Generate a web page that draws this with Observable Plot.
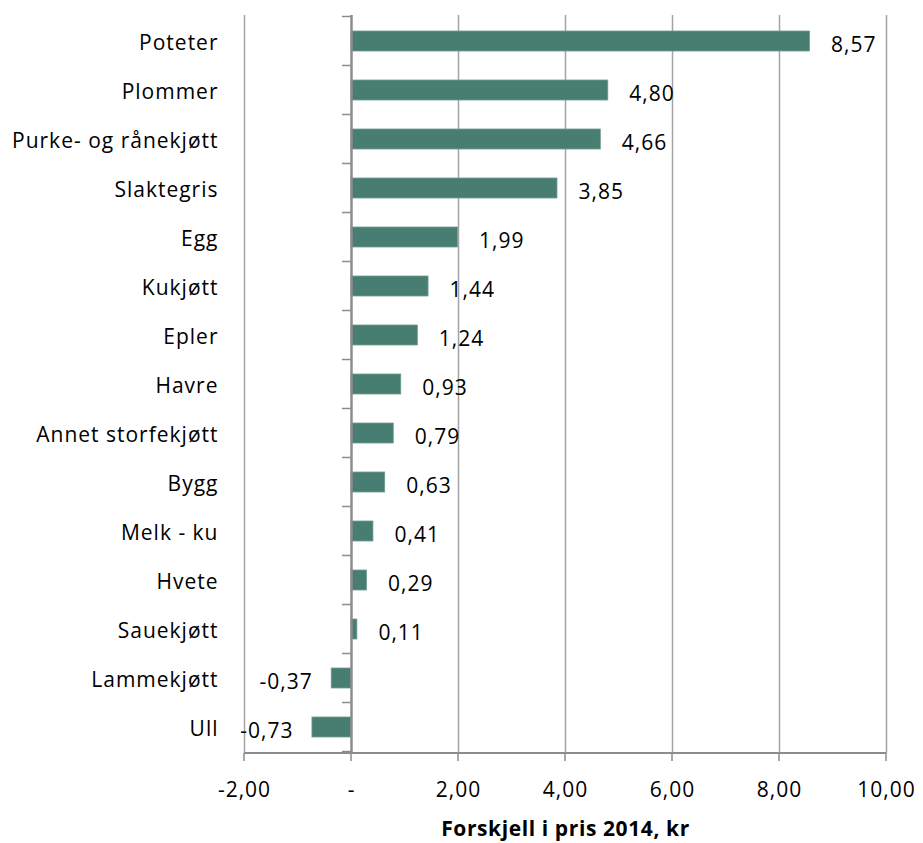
<!DOCTYPE html>
<html>
<head>
<meta charset="utf-8">
<script src="https://cdn.jsdelivr.net/npm/d3@7"></script>
<script src="https://cdn.jsdelivr.net/npm/@observablehq/plot@0.6"></script>
<style>
  html, body { margin: 0; padding: 0; background: #fff; }
  #chart svg { display: block; }
  #chart svg text { letter-spacing: 1px; }
  #chart svg .title text { letter-spacing: 0.6px; }
</style>
</head>
<body>
<div id="chart"></div>
<script>
// Price difference 2014 per product (kr)
const products = [
  "Poteter", "Plommer", "Purke- og rånekjøtt", "Slaktegris", "Egg",
  "Kukjøtt", "Epler", "Havre", "Annet storfekjøtt", "Bygg",
  "Melk - ku", "Hvete", "Sauekjøtt", "Lammekjøtt", "Ull"
];
const differences = [
  8.57, 4.80, 4.66, 3.85, 1.99,
  1.44, 1.24, 0.93, 0.79, 0.63,
  0.41, 0.29, 0.11, -0.37, -0.73
];
const xTicks = [-2, 0, 2, 4, 6, 8, 10];
const axisTitle = "Forskjell i pris 2014, kr";

const data = products.map((name, i) => ({name, value: differences[i]}));

// Norwegian number style: decimal comma, hyphen minus, "-" for zero
const fmt = v => v === 0 ? "-" : d3.format(".2f")(v).replace("\u2212", "-").replace(".", ",");
const FONT = "'Open Sans', sans-serif";
const FS = 21;
const BAR = "#487d72";
const GRID = "#a3a3a3";
const AXIS = "#8c8c8c";

// Category boundary ticks on the zero axis
function categoryTicks(index, scales) {
  const y = scales.y, x = scales.x;
  const step = y.step();
  const bw = y.bandwidth();
  const x0 = x(0);
  const g = d3.create("svg:g");
  const first = y(products[0]) - (step - bw) / 2;
  for (let k = 0; k <= products.length; k++) {
    const yy = first + k * step;
    g.append("line")
      .attr("x1", x0 - 9).attr("x2", x0)
      .attr("y1", yy).attr("y2", yy)
      .attr("stroke", AXIS).attr("stroke-width", 1.5);
  }
  return g.node();
}

// Bottom axis line with downward ticks
function bottomAxis(index, scales, values, dims) {
  const x = scales.x;
  const g = d3.create("svg:g");
  const yb = dims.height - dims.marginBottom;
  g.append("line").attr("x1", x(xTicks[0])).attr("x2", x(xTicks[xTicks.length - 1]))
    .attr("y1", yb).attr("y2", yb).attr("stroke", AXIS).attr("stroke-width", 2);
  for (const t of xTicks) {
    g.append("line").attr("x1", x(t)).attr("x2", x(t)).attr("y1", yb).attr("y2", yb + 8)
      .attr("stroke", AXIS).attr("stroke-width", 1.5);
  }
  return g.node();
}

const chart = Plot.plot({
  width: 923,
  height: 843,
  marginLeft: 244,
  marginRight: 37,
  marginTop: 15,
  marginBottom: 90,
  style: {fontFamily: FONT, fontSize: FS + "px", color: "#000", background: "#fff"},
  x: {domain: [-2, 10], ticks: xTicks},
  y: {domain: products, paddingInner: 0.59, paddingOuter: 0.295},
  marks: [
    // vertical gridlines
    Plot.ruleX(xTicks.filter(t => t !== 0), {stroke: GRID, strokeWidth: 1.5, strokeOpacity: 1}),
    // bars
    Plot.barX(data, {x1: 0, x2: "value", y: "name", fill: BAR, stroke: "#6f9c92", strokeWidth: 0.8}),
    // zero axis
    Plot.ruleX([0], {stroke: AXIS, strokeWidth: 2.5}),
    categoryTicks,
    bottomAxis,
    Plot.axisX({ticks: xTicks, tickFormat: fmt, tickSize: 0, tickPadding: 29, label: null, fontSize: FS}),
    Plot.axisY({tickSize: 0, tickPadding: 26, label: null, fontSize: FS, dy: 2}),
    // value labels
    Plot.text(data.filter(d => d.value >= 0), {x: "value", y: "name", text: d => fmt(d.value), textAnchor: "start", dx: 21, dy: 4, fontSize: FS, fill: "#000"}),
    Plot.text(data.filter(d => d.value < 0), {x: "value", y: "name", text: d => fmt(d.value), textAnchor: "end", dx: -19, dy: 4, fontSize: FS, fill: "#000"}),
    // axis title
    Plot.text([axisTitle], {frameAnchor: "bottom", dy: 82, fontWeight: "bold", fontSize: FS, fill: "#000", className: "title"})
  ]
});

document.getElementById("chart").appendChild(chart);
</script>
</body>
</html>
